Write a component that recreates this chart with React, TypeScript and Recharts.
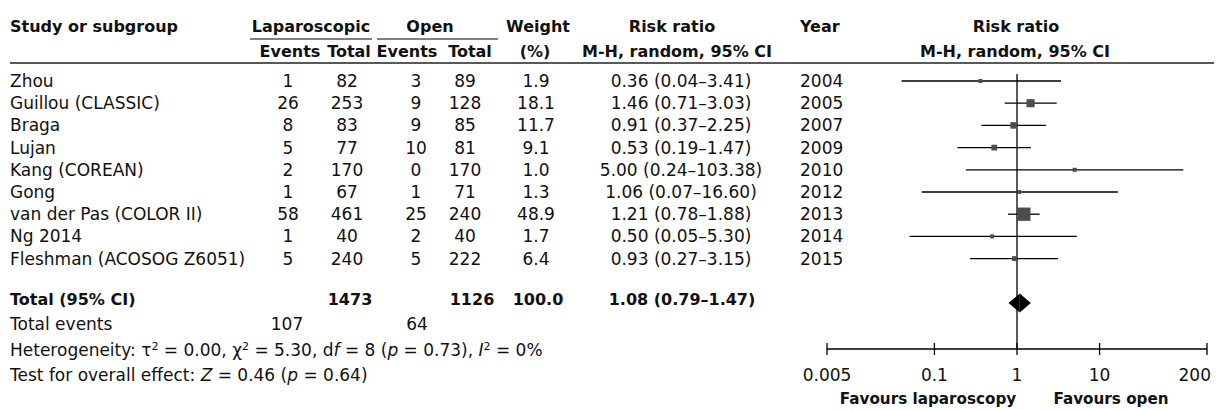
import React from 'react';
import { ComposedChart, Scatter, XAxis, YAxis, ErrorBar, ReferenceLine } from 'recharts';

const studies = ['Zhou', 'Guillou (CLASSIC)', 'Braga', 'Lujan', 'Kang (COREAN)', 'Gong', 'van der Pas (COLOR II)', 'Ng 2014', 'Fleshman (ACOSOG Z6051)'];
const lapEvents = [1, 26, 8, 5, 2, 1, 58, 1, 5];
const lapTotals = [82, 253, 83, 77, 170, 67, 461, 40, 240];
const openEvents = [3, 9, 9, 10, 0, 1, 25, 2, 5];
const openTotals = [89, 128, 85, 81, 170, 71, 240, 40, 222];
const weights = [1.9, 18.1, 11.7, 9.1, 1.0, 1.3, 48.9, 1.7, 6.4];
const riskRatios = [0.36, 1.46, 0.91, 0.53, 5.0, 1.06, 1.21, 0.5, 0.93];
const ciLow = [0.04, 0.71, 0.37, 0.19, 0.24, 0.07, 0.78, 0.05, 0.27];
const ciHigh = [3.41, 3.03, 2.25, 1.47, 103.38, 16.6, 1.88, 5.3, 3.15];
const years = [2004, 2005, 2007, 2009, 2010, 2012, 2013, 2014, 2015];

const totalLap = 1473;
const totalOpen = 1126;
const totalWeight = 100.0;
const totalRR = 1.08;
const totalLow = 0.79;
const totalHigh = 1.47;
const totalLapEvents = 107;
const totalOpenEvents = 64;
const totalRow = 10;

const tickValues = [0.005, 0.1, 1, 10, 200];
const tickLabels = ['0.005', '0.1', '1', '10', '200'];

const points = studies.map((s, i) => ({
  x: riskRatios[i],
  y: i,
  w: weights[i],
  err: [riskRatios[i] - ciLow[i], ciHigh[i] - riskRatios[i]],
}));

const FONT = 'DejaVu Sans';
const TXT = '#111';
const ROW0 = 81;
const PITCH = 22.2;
const rowBase = (i: number) => ROW0 + PITCH * i + 6;

const fmtCI = (r: number, l: number, h: number) => `${r.toFixed(2)} (${l.toFixed(2)}–${h.toFixed(2)})`;

const Square = (props: any) => {
  const { cx, cy, payload } = props;
  if (cx == null || cy == null) return null;
  const s = Math.max(4, 1.9 * Math.sqrt(payload.w));
  return <rect x={cx - s / 2} y={cy - s / 2} width={s} height={s} fill="#4d4d4d" />;
};

const AxisTick = (props: any) => {
  const { x, y, payload } = props;
  const ay = y - 8;
  const idx = tickValues.indexOf(payload.value);
  const last = idx === tickValues.length - 1;
  return (
    <g>
      <line x1={x} x2={x} y1={ay - 6} y2={ay + 6} stroke="#000" strokeWidth={1.3} />
      <text
        x={last ? x + 4 : x}
        y={ay + 32}
        textAnchor={last ? 'end' : 'middle'}
        fontSize={17}
        fontFamily={FONT}
        fill={TXT}
      >
        {idx >= 0 ? tickLabels[idx] : payload.value}
      </text>
    </g>
  );
};

const LeftHalf = (props: any) => {
  const { x1, y1, x2 } = props;
  return <polygon points={`${x1},${y1} ${x2},${y1 - 9.5} ${x2},${y1 + 9.5}`} fill="#000" />;
};
const RightHalf = (props: any) => {
  const { x1, y1, x2 } = props;
  return <polygon points={`${x1},${y1 - 9.5} ${x2},${y1} ${x1},${y1 + 9.5}`} fill="#000" />;
};

const Table = () => {
  const t = (x: number, y: number, s: React.ReactNode, anchor: string = 'middle', bold = false, size?: number) => (
    <text
      x={x}
      y={y}
      textAnchor={anchor as any}
      fontFamily={FONT}
      fontSize={size ?? (bold ? 16 : 17)}
      fontWeight={bold ? 'bold' : 'normal'}
      fill={TXT}
    >
      {s}
    </text>
  );
  return (
    <svg width={1216} height={410} style={{ position: 'absolute', left: 0, top: 0, pointerEvents: 'none' }}>
      {/* header */}
      {t(10, 32, 'Study or subgroup', 'start', true)}
      {t(311, 32, 'Laparoscopic', 'middle', true)}
      {t(430, 32, 'Open', 'middle', true)}
      {t(538, 32, 'Weight', 'middle', true)}
      {t(672, 32, 'Risk ratio', 'middle', true)}
      {t(800, 32, 'Year', 'start', true)}
      {t(1016, 32, 'Risk ratio', 'middle', true)}
      <line x1={250} x2={372} y1={39} y2={39} stroke="#000" strokeWidth={1} />
      <line x1={377} x2={498} y1={39} y2={39} stroke="#000" strokeWidth={1} />
      {t(290, 57, 'Events', 'middle', true)}
      {t(349, 57, 'Total', 'middle', true)}
      {t(407, 57, 'Events', 'middle', true)}
      {t(470, 57, 'Total', 'middle', true)}
      {t(535, 57, '(%)', 'middle', true)}
      {t(677, 57, 'M-H, random, 95% CI', 'middle', true)}
      {t(1015, 57, 'M-H, random, 95% CI', 'middle', true)}
      <line x1={10} x2={1214} y1={63} y2={63} stroke="#222" strokeWidth={1.5} />
      {/* rows */}
      {studies.map((s, i) => (
        <g key={s}>
          {t(10, rowBase(i), s, 'start')}
          {t(288, rowBase(i), String(lapEvents[i]))}
          {t(347, rowBase(i), String(lapTotals[i]))}
          {t(416, rowBase(i), String(openEvents[i]))}
          {t(465, rowBase(i), String(openTotals[i]))}
          {t(536, rowBase(i), weights[i].toFixed(1))}
          {t(681, rowBase(i), fmtCI(riskRatios[i], ciLow[i], ciHigh[i]))}
          {t(800, rowBase(i), String(years[i]), 'start')}
        </g>
      ))}
      {/* totals */}
      {t(10, 305, 'Total (95% CI)', 'start', true)}
      {t(350, 305, String(totalLap), 'middle', true)}
      {t(472, 305, String(totalOpen), 'middle', true)}
      {t(538, 305, totalWeight.toFixed(1), 'middle', true)}
      {t(682, 305, fmtCI(totalRR, totalLow, totalHigh), 'middle', true)}
      {t(10, 330, 'Total events', 'start')}
      {t(287, 330, String(totalLapEvents))}
      {t(417, 330, String(totalOpenEvents))}
      <text x={10} y={356} fontFamily={FONT} fontSize={17} fill={TXT}>
        Heterogeneity: τ<tspan dy={-6} fontSize={11}>2</tspan>
        <tspan dy={6}> = 0.00, χ</tspan>
        <tspan dy={-6} fontSize={11}>2</tspan>
        <tspan dy={6}> = 5.30, d</tspan>
        <tspan fontStyle="italic">f</tspan> = 8 (<tspan fontStyle="italic">p</tspan> = 0.73), <tspan fontStyle="italic">I</tspan>
        <tspan dy={-6} fontSize={11}>2</tspan>
        <tspan dy={6}> = 0%</tspan>
      </text>
      <text x={10} y={381} fontFamily={FONT} fontSize={17} fill={TXT}>
        Test for overall effect: <tspan fontStyle="italic">Z</tspan> = 0.46 (<tspan fontStyle="italic">p</tspan> = 0.64)
      </text>
      {t(928, 404, 'Favours laparoscopy', 'middle', true, 15.2)}
      {t(1111, 404, 'Favours open', 'middle', true, 15.2)}
    </svg>
  );
};

export default function App() {
  return (
    <div style={{ position: 'absolute', left: 0, top: 0, width: 1216, height: 410, background: '#fff' }}>
      <ComposedChart width={1216} height={410} margin={{ top: 74, right: 9, bottom: 31, left: 827 }}>
        <XAxis
          dataKey="x"
          type="number"
          scale="log"
          domain={[0.005, 200]}
          allowDataOverflow
          ticks={tickValues}
          interval={0}
          height={30}
          tickSize={6}
          tickMargin={2}
          tickLine={false}
          axisLine={{ stroke: '#000', strokeWidth: 1.3 }}
          tick={<AxisTick />}
        />
        <YAxis dataKey="y" type="number" hide reversed domain={[-0.3153, 12.072]} allowDataOverflow />
        <ReferenceLine x={1} stroke="#000" strokeWidth={1.3} />
        <ReferenceLine segment={[{ x: totalLow, y: totalRow }, { x: totalRR, y: totalRow }]} shape={<LeftHalf />} />
        <ReferenceLine segment={[{ x: totalRR, y: totalRow }, { x: totalHigh, y: totalRow }]} shape={<RightHalf />} />
        <Scatter data={points} shape={<Square />} isAnimationActive={false}>
          <ErrorBar dataKey="err" direction="x" width={0} stroke="#000" strokeWidth={1.3} isAnimationActive={false} />
        </Scatter>
      </ComposedChart>
      <Table />
    </div>
  );
}
